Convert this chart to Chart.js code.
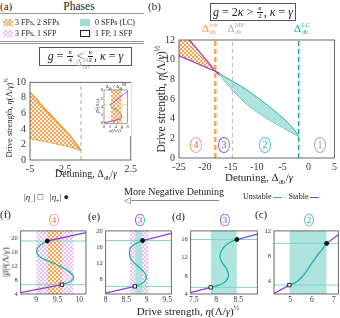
<!DOCTYPE html>
<html>
<head>
<meta charset="utf-8">
<script src="https://cdn.jsdelivr.net/npm/chart.js@4.4.0/dist/chart.umd.min.js"></script>
<style>
body{margin:0;width:340px;height:318px;position:relative;background:#fff;font-family:"Liberation Serif",serif;color:#222;overflow:hidden}
canvas{position:absolute}
.t{position:absolute;white-space:nowrap;line-height:1}
.c{transform:translate(-50%,-50%)}
.r{transform:translate(-50%,-50%) rotate(-90deg)}
.rule{position:absolute;height:0}
.box{position:absolute;border:1.2px solid #555;display:flex;align-items:center;justify-content:center;box-sizing:border-box;white-space:nowrap}
.fr{display:inline-flex;flex-direction:column;align-items:center;font-size:7px;line-height:1;margin:0 1px;vertical-align:middle}
.fr>*:first-child{border-bottom:0.8px solid #222;padding:0 1px}
.ss{display:inline-flex;flex-direction:column;font-size:6.5px;line-height:1.05;vertical-align:middle;margin-left:0.5px}
sub,sup{font-size:0.65em;line-height:0}
.sw{position:absolute;width:10px;height:7px;box-sizing:border-box}
.cl{position:absolute;transform:translate(-50%,-50%);border-radius:50%;border:1.4px solid;display:flex;align-items:center;justify-content:center;line-height:1}
.dash{display:inline-block;width:9px;height:0;vertical-align:middle;margin:0 2px}
</style>
</head>
<body>
<canvas id="cA" width="140" height="110" style="left:0;top:70px"></canvas>
<canvas id="cIn" width="36" height="53" style="left:95px;top:83px;background:#fff"></canvas>
<canvas id="cB" width="190" height="160" style="left:150px;top:30px"></canvas>
<canvas id="cF" width="88" height="82" style="left:0;top:224px"></canvas>
<canvas id="cE" width="86" height="82" style="left:88px;top:224px"></canvas>
<canvas id="cD" width="85" height="82" style="left:174px;top:224px"></canvas>
<canvas id="cC" width="81" height="82" style="left:259px;top:224px"></canvas>

<!-- panel (a) header -->
<div class="t" style="left:0;top:1px;font-size:11px">(a)</div>
<div class="t c" style="left:79px;top:7px;font-size:11.5px">Phases</div>
<div class="rule" style="left:0;top:13px;width:144px;border-top:1.5px solid #999"></div>
<div class="sw" style="left:3px;top:19px;background:repeating-conic-gradient(#f5a45a 0 25%,#fff2e4 0 50%) 0 0/4px 4px"></div>
<div class="t" style="left:15px;top:18.5px;font-size:8px">3 FPs, 2 SFPs</div>
<div class="sw" style="left:80px;top:19px;background:#9fdcd6"></div>
<div class="t" style="left:95px;top:18.5px;font-size:8px">0 SFPs (LC)</div>
<div class="sw" style="left:3px;top:30px;background:repeating-conic-gradient(#e6c5ee 0 25%,#faf2fb 0 50%) 0 0/4px 4px"></div>
<div class="t" style="left:15px;top:29.5px;font-size:8px">3 FPs, 1 SFP</div>
<div class="sw" style="left:80px;top:30px;border:1.2px solid #222;background:#fff"></div>
<div class="t" style="left:95px;top:29.5px;font-size:8px">1 FP, 1 SFP</div>
<div class="rule" style="left:0;top:40.5px;width:144px;border-top:1.3px solid #999"></div>
<div class="rule" style="left:0;top:43px;width:144px;border-top:1.3px solid #999"></div>
<div class="box" style="left:39px;top:47px;width:93px;height:19px;font-size:12px"><i>g</i>&nbsp;=&nbsp;<span class="fr"><i>κ</i><span>4</span></span>&nbsp;&lt;&nbsp;<span class="fr"><i>κ</i><span>2</span></span>,&nbsp;<i>κ</i>&nbsp;=&nbsp;<i>γ</i></div>
<div class="t c" style="left:84px;top:64px;font-size:10px;color:#aaa">Δ<span class="ss"><span>MP</span><span>db</span></span></div>
<div class="t r" style="left:9px;top:118px;font-size:8.5px">Drive strength, <i>η</i>(Λ/<i>γ</i>)<sup>½</sup></div>
<div class="t c" style="left:86px;top:174px;font-size:10px">Detuning, Δ<sub>db</sub>/<i>γ</i></div>
<div class="t c" style="left:116px;top:87px;font-size:4.5px">Δ<sub>db</sub> &lt; Δ<sub>db</sub><sup>MP</sup></div>
<div class="t r" style="left:98px;top:106px;font-size:4.5px">|<i>β</i>|²(Λ/<i>γ</i>)</div>
<div class="t c" style="left:116px;top:131px;font-size:4.5px"><i>η</i>(Λ/<i>γ</i>)<sup>½</sup></div>

<!-- panel (b) header -->
<div class="t" style="left:148px;top:1px;font-size:11px">(b)</div>
<div class="box" style="left:210px;top:3px;width:86px;height:18px;font-size:12px"><i>g</i>&nbsp;=&nbsp;2<i>κ</i>&nbsp;&gt;&nbsp;<span class="fr"><i>κ</i><span>2</span></span>,&nbsp;<i>κ</i>&nbsp;=&nbsp;<i>γ</i></div>
<div class="t c" style="left:210px;top:29px;font-size:11px;color:#f39a3a">Δ<span class="ss"><span>crit</span><span>db</span></span></div>
<div class="t c" style="left:236px;top:29px;font-size:11px;color:#aaa">Δ<span class="ss"><span>MP</span><span>db</span></span></div>
<div class="t c" style="left:302px;top:29px;font-size:11px;color:#1aa9a0">Δ<span class="ss"><span>LC</span><span>db</span></span></div>
<div class="t r" style="left:162px;top:99px;font-size:11.5px">Drive strength, <i>η</i>(Λ/<i>γ</i>)<sup>½</sup></div>
<div class="t c" style="left:259px;top:177px;font-size:11px">Detuning, Δ<sub>db</sub>/<i>γ</i></div>
<div class="cl" style="left:196px;top:145px;width:10px;height:14px;font-size:10px;color:#e2653c;border-color:#eaa0e6 #eaa0e6 #eaa0e6 #f5a04c">4</div>
<div class="cl" style="left:224px;top:145px;width:10px;height:14px;font-size:10px;color:#8e3fd0;border-color:#9a4fe0 #3cc0b5 #9a4fe0 #9a4fe0">3</div>
<div class="cl" style="left:265px;top:145px;width:10px;height:14px;font-size:10px;color:#22b0a6;border-color:#55c9c0">2</div>
<div class="cl" style="left:320px;top:145px;width:10px;height:14px;font-size:10px;color:#999;border-color:#aaa">1</div>

<!-- middle row -->
<div class="t" style="left:24px;top:193px;font-size:9px">|<i>η</i><sub>−</sub>| □&nbsp;&nbsp;&nbsp;|<i>η</i><sub>+</sub>| ●</div>
<div class="t c" style="left:174px;top:192px;font-size:10px">More Negative Detuning</div>
<div class="rule" style="left:131px;top:200px;width:88px;border-top:1.8px solid #888"></div>
<div class="t" style="left:124px;top:196px;font-size:9px;color:#666;font-family:'DejaVu Sans'">◁</div>
<div class="t" style="left:243px;top:193px;font-size:8px">Unstable<span class="dash" style="border-top:1.4px solid #20b2aa"></span>&nbsp;&nbsp;Stable<span class="dash" style="border-top:1.4px solid #8f3fe0"></span></div>

<!-- bottom panels -->
<div class="t" style="left:0;top:209px;font-size:11px">(f)</div>
<div class="t" style="left:88px;top:211px;font-size:11px">(e)</div>
<div class="t" style="left:172px;top:211px;font-size:11px">(d)</div>
<div class="t" style="left:255px;top:209px;font-size:11px">(c)</div>
<div class="cl" style="left:54px;top:220px;width:8px;height:11px;font-size:9px;color:#e2653c;border-color:#eaa0e6 #eaa0e6 #eaa0e6 #f5a04c">4</div>
<div class="cl" style="left:140px;top:220px;width:8px;height:11px;font-size:9px;color:#8e3fd0;border-color:#9a4fe0 #3cc0b5 #9a4fe0 #9a4fe0">3</div>
<div class="cl" style="left:225px;top:220px;width:8px;height:11px;font-size:9px;color:#8e3fd0;border-color:#9a4fe0 #3cc0b5 #9a4fe0 #9a4fe0">3</div>
<div class="cl" style="left:309px;top:220px;width:8px;height:11px;font-size:9px;color:#22b0a6;border-color:#55c9c0">2</div>
<div class="t r" style="left:6px;top:262px;font-size:9px">|<i>β</i>|²(Λ/<i>γ</i>)</div>
<div class="t c" style="left:188px;top:311px;font-size:11px">Drive strength, <i>η</i>(Λ/<i>γ</i>)<sup>½</sup></div>

<script>
// ---- panel (a): bistable region for g = kappa/4
const aDet = [-5, -4, -3, -2, -1.2];
const aUpper = [8.7, 6.8, 4.95, 3.1, 1.25];
const aLower = [2.8, 2.45, 2.1, 1.7, 1.25];
const aMP = -1.2;

// inset of (a)
const inLowX = [0, 2, 4, 5.5, 6];
const inLowY = [0.15, 0.4, 0.75, 1.1, 1.5];
const inMidX = [6, 5.8, 4.9, 3.6, 2.5, 2.2];
const inMidY = [1.5, 2.0, 2.8, 3.5, 4.0, 4.5];
const inUpX = [2.2, 3.5, 5, 6.5, 8];
const inUpY = [4.5, 5.2, 6.0, 6.9, 7.7];
const inBand = [2.2, 6.0];
const inLevels = [1.5, 4.5];

// ---- panel (b): g = 2 kappa
const bHatchX = [-25, -17.9];
const bHatchTop = [13.3, 8.8];
const bHatchBot = [10.4, 8.8];
const bPurpleX = [-25, -17.9, -17.3];
const bPurpleTop = [13.3, 8.8, 8.45];
const bPurpleBot = [10.4, 8.8, 8.66];
const lensX = [-17.9, -16, -14, -12, -10, -8, -6, -4, -2.8, -1.9];
const lensUp = [8.8, 8.2, 7.6, 6.95, 6.2, 5.4, 4.55, 3.6, 2.9, 2.2];
const lensLo = [8.8, 7.7, 6.5, 5.5, 4.7, 4.0, 3.4, 2.8, 2.45, 2.2];
const bCrit = -18, bMP = -14.7, bLC = -1.9;

// ---- bottom panels: |beta|^2 vs drive
const fLowX = [8.64, 9.6], fLowY = [4.4, 6.67];
const fMidX = [9.6, 9.78, 9.87, 9.8, 9.48, 9.13, 9.02, 9.05, 9.26];
const fMidY = [6.67, 7.5, 8.6, 10.1, 12.45, 14.3, 15.65, 17.5, 19.2];
const fUpX = [9.26, 10.16], fUpY = [19.2, 21.6];
const fPink = [9.0, 9.87], fOrange = [9.26, 9.6];

const eLowX = [8.0, 8.71], eLowY = [4.5, 6.2];
const eMidX = [8.71, 8.88, 8.99, 8.96, 8.82, 8.64, 8.58, 8.62, 8.9];
const eMidY = [6.2, 6.9, 8.1, 9.4, 10.9, 12.6, 14.2, 16.0, 17.6];
const eUpX = [8.9, 9.6], eUpY = [17.6, 19.4];
const ePink = [8.58, 9.05], eTeal = [8.72, 8.9];

const dLowX = [7.43, 7.88], dLowY = [4.3, 5.45];
const dMidX = [7.88, 8.08, 8.22, 8.28, 8.24, 8.12, 8.09, 8.17, 8.3, 8.47];
const dMidY = [5.45, 6.0, 6.8, 8.0, 9.5, 11.2, 12.6, 14.2, 15.3, 16.0];
const dUpX = [8.47, 8.93], dUpY = [16.0, 17.2];
const dTeal = [7.88, 8.47];

const cLowX = [4.27, 4.97], cLowY = [2.0, 3.33];
const cMidX = [4.97, 5.25, 5.5, 5.75, 6.0, 6.25, 6.5, 6.67];
const cMidY = [3.33, 3.75, 4.45, 5.55, 6.9, 8.1, 9.2, 10.0];
const cUpX = [6.67, 7.2], cUpY = [10.0, 11.4];
const cTeal = [4.97, 6.67];

const F = '"Liberation Serif", serif';
const ORANGE = '#f39a3a', PURPLE = '#8f3fe0', TEAL = '#20b2aa', TEAL_FILL = '#aee3de', TEAL_LT = '#7fd6cf';

function checker(c1, c2, s) {
	const cv = document.createElement('canvas');
	cv.width = cv.height = s * 2;
	const g = cv.getContext('2d');
	g.fillStyle = c2; g.fillRect(0, 0, s * 2, s * 2);
	g.fillStyle = c1; g.fillRect(0, 0, s, s); g.fillRect(s, s, s, s);
	return g.createPattern(cv, 'repeat');
}
const orangeChk = checker('#f5a45a', '#fff2e4', 2);
const pinkChk = checker('#e6c5ee', '#faf2fb', 2);

function pts(xs, ys) { return xs.map((x, i) => ({ x: x, y: ys[i] })); }

// box round the plot area, like the original axes
const framePlugin = {
	id: 'frame',
	afterDatasetsDraw(c) {
		const a = c.chartArea, ctx = c.ctx;
		ctx.save();
		ctx.strokeStyle = '#444';
		ctx.lineWidth = c.canvas.id === 'cIn' ? 0.5 : 0.8;
		ctx.strokeRect(a.left, a.top, a.width, a.height);
		ctx.restore();
	}
};

function panel(id, o) {
	return new Chart(document.getElementById(id), {
		type: 'line',
		data: { datasets: o.datasets },
		options: {
			responsive: false,
			animation: false,
			layout: { autoPadding: false, padding: { top: o.pt, right: o.pr, left: 0, bottom: 0 } },
			plugins: { legend: { display: false }, tooltip: { enabled: false } },
			elements: { point: { radius: 0 }, line: { tension: 0 } },
			scales: {
				x: {
					type: 'linear', min: o.x[0], max: o.x[1],
					grid: { display: false, drawTicks: false }, border: { display: false },
					ticks: { font: { family: F, size: o.xf }, color: '#333', padding: o.xp, maxRotation: 0, autoSkip: false, callback: v => String(v) },
					afterBuildTicks: s => { s.ticks = o.xt.map(v => ({ value: v })); },
					afterFit: s => { s.height = o.xh; }
				},
				y: {
					type: 'linear', min: o.y[0], max: o.y[1],
					grid: { display: false, drawTicks: false }, border: { display: false },
					ticks: { font: { family: F, size: o.yf }, color: '#333', padding: o.yp, autoSkip: false, callback: v => String(v) },
					afterBuildTicks: s => { s.ticks = o.yt.map(v => ({ value: v })); },
					afterFit: s => { s.width = o.yw; }
				}
			}
		},
		plugins: [framePlugin]
	});
}

// S-curve panel: stable / unstable branches, level lines, shaded bands
function sCurve(low, mid, up, xr, yr, bands) {
	const sq = mid[0], dot = mid[mid.length - 1];
	const sets = [
		{ data: [sq], showLine: false, pointStyle: 'rect', pointRadius: 2.4, pointBackgroundColor: '#fff', pointBorderColor: '#111', pointBorderWidth: 0.9, order: 0 },
		{ data: [dot], showLine: false, pointStyle: 'circle', pointRadius: 2, pointBackgroundColor: '#111', pointBorderColor: '#111', order: 0 },
		{ data: low, borderColor: PURPLE, borderWidth: 1.3, order: 1 },
		{ data: mid, borderColor: TEAL, borderWidth: 1.3, tension: 0.4, order: 1 },
		{ data: up, borderColor: PURPLE, borderWidth: 1.3, order: 1 },
		{ data: [{ x: xr[0], y: sq.y }, { x: xr[1], y: sq.y }], borderColor: TEAL_LT, borderWidth: 1, order: 3 },
		{ data: [{ x: xr[0], y: dot.y }, { x: xr[1], y: dot.y }], borderColor: TEAL_LT, borderWidth: 1, order: 3 }
	];
	bands.forEach(b => sets.push({ data: [{ x: b[0], y: yr[1] }, { x: b[1], y: yr[1] }], fill: 'start', backgroundColor: b[2], borderWidth: 0, order: b[3] }));
	return sets;
}

// (a)
panel('cA', {
	pt: 12.3, pr: 2.7, yw: 30, xh: 20, xf: 10, yf: 10, xp: 3, yp: 4,
	x: [-5, 2.5], xt: [-5, -2.5, 2.5], y: [0, 10], yt: [0, 2, 4, 6, 8, 10],
	datasets: [
		{ data: pts(aDet, aUpper), borderColor: ORANGE, borderWidth: 1.6, fill: '+1', backgroundColor: orangeChk, tension: 0.15, order: 2 },
		{ data: pts(aDet, aLower), borderColor: ORANGE, borderWidth: 1.6, tension: 0.15, order: 2 },
		{ data: [{ x: aMP, y: 0 }, { x: aMP, y: 10 }], borderColor: '#aaa', borderWidth: 1, borderDash: [4, 3], order: 1 }
	]
});

// inset of (a)
panel('cIn', {
	pt: 7, pr: 3.3, yw: 9, xh: 12.7, xf: 4.5, yf: 4.5, xp: 1, yp: 1,
	x: [0, 8], xt: [0, 2, 4, 6, 8], y: [0, 8], yt: [0, 2, 4, 6, 8],
	datasets: [
		{ data: pts(inLowX, inLowY), borderColor: PURPLE, borderWidth: 0.9, tension: 0.3, order: 1 },
		{ data: pts(inMidX, inMidY), borderColor: TEAL, borderWidth: 0.9, tension: 0.4, order: 1 },
		{ data: pts(inUpX, inUpY), borderColor: PURPLE, borderWidth: 0.9, tension: 0.3, order: 1 },
		{ data: [{ x: 0, y: inLevels[0] }, { x: 8, y: inLevels[0] }], borderColor: '#fbd3aa', borderWidth: 0.8, order: 3 },
		{ data: [{ x: 0, y: inLevels[1] }, { x: 8, y: inLevels[1] }], borderColor: '#fbd3aa', borderWidth: 0.8, order: 3 },
		{ data: [{ x: inBand[0], y: 8 }, { x: inBand[1], y: 8 }], fill: 'start', backgroundColor: orangeChk, borderWidth: 0, order: 5 }
	]
});

// (b)
panel('cB', {
	pt: 10, pr: 3, yw: 29, xh: 32, xf: 10, yf: 10, xp: 3, yp: 4,
	x: [-25, 5], xt: [-25, -20, -15, -10, -5, 0, 5], y: [0, 12], yt: [0, 2, 4, 6, 8, 10, 12],
	datasets: [
		{ data: pts(bHatchX, bHatchTop), borderWidth: 0, fill: '+1', backgroundColor: orangeChk, order: 5 },
		{ data: pts(bHatchX, bHatchBot), borderWidth: 0, order: 5 },
		{ data: pts(lensX, lensUp), borderColor: TEAL, borderWidth: 1, fill: '+1', backgroundColor: TEAL_FILL, tension: 0.3, order: 4 },
		{ data: pts(lensX, lensLo), borderColor: TEAL, borderWidth: 1, tension: 0.3, order: 4 },
		{ data: pts(bPurpleX, bPurpleTop), borderColor: PURPLE, borderWidth: 1.2, order: 2 },
		{ data: pts(bPurpleX, bPurpleBot), borderColor: PURPLE, borderWidth: 1.2, order: 2 },
		{ data: [{ x: bCrit, y: 0 }, { x: bCrit, y: 12 }], borderColor: '#f7a552', borderWidth: 2.4, borderDash: [5, 3], order: 1 },
		{ data: [{ x: bMP, y: 0 }, { x: bMP, y: 12 }], borderColor: '#bbb', borderWidth: 1, borderDash: [4, 3], order: 1 },
		{ data: [{ x: bLC, y: 0 }, { x: bLC, y: 12 }], borderColor: '#1aa9a0', borderWidth: 1.4, borderDash: [5, 3], order: 1 }
	]
});

// (f) (e) (d) (c)
panel('cF', {
	pt: 4.3, pr: 2, yw: 20.7, xh: 12, xf: 7.5, yf: 6.5, xp: 2, yp: 3,
	x: [8.64, 10.16], xt: [9, 9.5, 10], y: [4, 22.1], yt: [4, 8, 12, 16, 20],
	datasets: sCurve(pts(fLowX, fLowY), pts(fMidX, fMidY), pts(fUpX, fUpY), [8.64, 10.16], [4, 22.1],
		[[fOrange[0], fOrange[1], orangeChk, 5], [fPink[0], fPink[1], pinkChk, 6]])
});
panel('cE', {
	pt: 5.3, pr: 1.7, yw: 17.7, xh: 12, xf: 7.5, yf: 6.5, xp: 2, yp: 3,
	x: [8, 9.6], xt: [8, 8.5, 9, 9.5], y: [4.3, 20], yt: [8, 12, 16, 20],
	datasets: sCurve(pts(eLowX, eLowY), pts(eMidX, eMidY), pts(eUpX, eUpY), [8, 9.6], [4.3, 20],
		[[eTeal[0], eTeal[1], TEAL_FILL, 5], [ePink[0], ePink[1], pinkChk, 6]])
});
panel('cD', {
	pt: 5.3, pr: 1.7, yw: 16.7, xh: 12, xf: 7.5, yf: 6.5, xp: 2, yp: 3,
	x: [7.43, 8.93], xt: [7.5, 8, 8.5], y: [4, 17.9], yt: [4, 8, 12, 16],
	datasets: sCurve(pts(dLowX, dLowY), pts(dMidX, dMidY), pts(dUpX, dUpY), [7.43, 8.93], [4, 17.9],
		[[dTeal[0], dTeal[1], TEAL_FILL, 5]])
});
panel('cC', {
	pt: 5.3, pr: 1.7, yw: 15, xh: 12, xf: 7.5, yf: 6.5, xp: 2, yp: 3,
	x: [4.27, 7.2], xt: [5, 6, 7], y: [1.9, 12], yt: [4, 8, 12],
	datasets: sCurve(pts(cLowX, cLowY), pts(cMidX, cMidY), pts(cUpX, cUpY), [4.27, 7.2], [1.9, 12],
		[[cTeal[0], cTeal[1], TEAL_FILL, 5]])
});
</script>
</body>
</html>
